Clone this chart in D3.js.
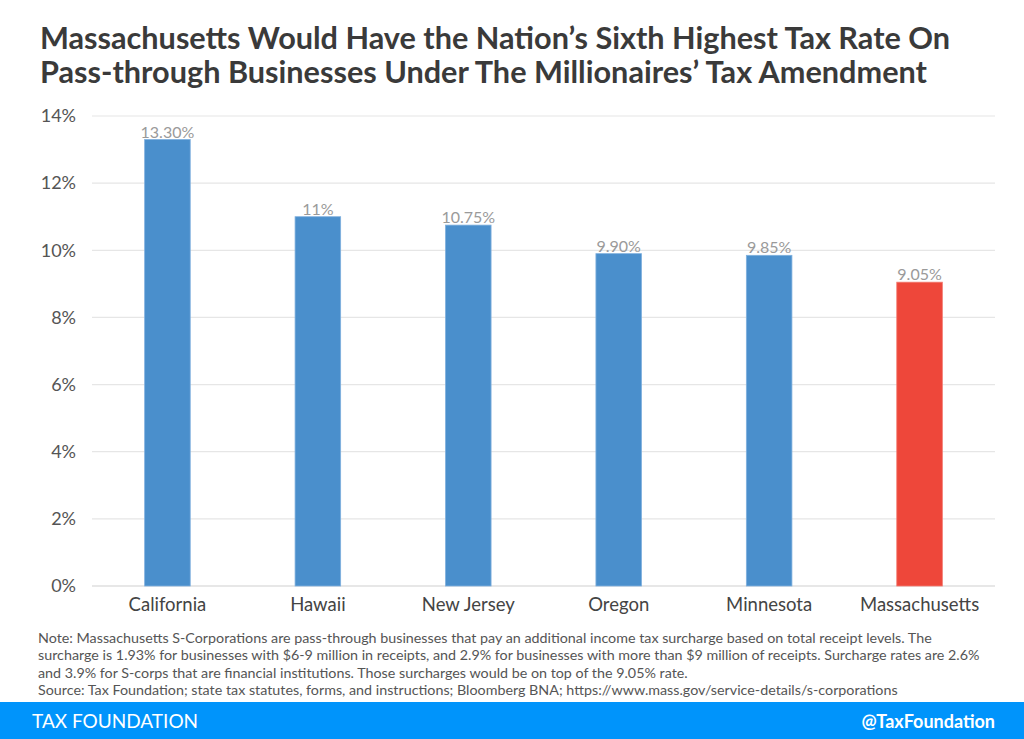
<!DOCTYPE html>
<html><head><meta charset="utf-8">
<script src="https://cdn.jsdelivr.net/npm/d3@7"></script>
<style>body{margin:0;background:#fff}svg{display:block}</style>
</head><body>
<svg id="c" width="1024" height="739"></svg>
<script>
const categories = ["California","Hawaii","New Jersey","Oregon","Minnesota","Massachusetts"];
const values = [13.30, 11, 10.75, 9.90, 9.85, 9.05];
const valueLabels = ["13.30%","11%","10.75%","9.90%","9.85%","9.05%"];
const highlight = ["Massachusetts"];
const yTicks = [0,2,4,6,8,10,12,14];
const titleLines = ["Massachusetts Would Have the Nation\u2019s Sixth Highest Tax Rate On","Pass-through Businesses Under The Millionaires\u2019 Tax Amendment"];
const noteLines = [
 "Note: Massachusetts S-Corporations are pass-through businesses that pay an additional income tax surcharge based on total receipt levels. The",
 "surcharge is 1.93% for businesses with $6-9 million in receipts, and 2.9% for businesses with more than $9 million of receipts. Surcharge rates are 2.6%",
 "and 3.9% for S-corps that are financial institutions. Those surcharges would be on top of the 9.05% rate.",
 "Source: Tax Foundation; state tax statutes, forms, and instructions; Bloomberg BNA; https://www.mass.gov/service-details/s-corporations"
];

(function(){
const svg = d3.select("#c");
const font = "Lato, 'Open Sans', sans-serif";
const pL = 92, pR = 995, pT = 116, pB = 586;

// Title
const tw = [910, 887];
svg.selectAll("text.title").data(titleLines).join("text")
  .attr("class","title").attr("x",40).attr("y",(d,i)=>49+i*33.5)
  .attr("font-family",font).attr("font-weight",700).attr("font-size",30)
  .attr("fill","#3a3a3a").attr("textLength",(d,i)=>tw[i]).attr("lengthAdjust","spacingAndGlyphs")
  .text(d=>d);

const x = d3.scaleBand().domain(categories).range([pL,pR]).paddingInner(0.697).paddingOuter(0.35);
const y = d3.scaleLinear().domain([0,14]).range([pB,pT]);

// gridlines
svg.append("g").selectAll("line").data(yTicks).join("line")
  .attr("x1",pL).attr("x2",pR).attr("y1",d=>y(d)).attr("y2",d=>y(d))
  .attr("stroke",d=>d===0?"#d0d0d0":"#e6e6e6").attr("stroke-width",1.2);

// y axis labels
const yAxis = d3.axisLeft(y).tickValues(yTicks).tickFormat(d=>d+"%").tickSize(0).tickPadding(0);
const ga = svg.append("g").attr("transform",`translate(76,0)`).call(yAxis);
ga.select(".domain").remove();
ga.selectAll("text").attr("font-family",font).attr("font-size",18).attr("fill","#555");

// x axis labels
const xAxis = d3.axisBottom(x).tickSize(0).tickPadding(0);
const gx = svg.append("g").attr("transform",`translate(0,${pB+12})`).call(xAxis);
gx.select(".domain").remove();
gx.selectAll("text").attr("font-family",font).attr("font-size",18.5).attr("fill","#444");

// bars
svg.append("g").selectAll("rect").data(categories).join("rect")
  .attr("x",d=>x(d)).attr("width",x.bandwidth())
  .attr("y",(d,i)=>y(values[i])).attr("height",(d,i)=>y(0)-y(values[i]))
  .attr("fill",d=>highlight.includes(d)?"#ee473a":"#4a8fcc")
  .attr("stroke",d=>highlight.includes(d)?"#f27a70":"#7fb0de").attr("stroke-width",0.8);

// value labels
svg.append("g").selectAll("text").data(categories).join("text")
  .attr("x",d=>x(d)+x.bandwidth()/2).attr("y",(d,i)=>y(values[i])-2)
  .attr("text-anchor","middle").attr("font-family",font).attr("font-size",16)
  .attr("fill","#9a9a9a").text((d,i)=>valueLabels[i]);

// notes
svg.selectAll("text.note").data(noteLines).join("text")
  .attr("class","note").attr("x",38).attr("y",(d,i)=>643+i*17.3)
  .attr("font-family",font).attr("font-size",14.3).attr("fill","#555")
  .text(d=>d);

// footer
svg.append("rect").attr("x",0).attr("y",702).attr("width",1024).attr("height",37).attr("fill","#0094fb");
svg.append("text").attr("x",32).attr("y",728).attr("font-family",font).attr("font-size",19)
  .attr("fill","#fff").text("TAX FOUNDATION");
svg.append("text").attr("x",995).attr("y",728).attr("text-anchor","end").attr("font-family",font)
  .attr("font-size",18).attr("font-weight",700).attr("fill","#fff").text("@TaxFoundation");
})();
</script>
</body></html>
